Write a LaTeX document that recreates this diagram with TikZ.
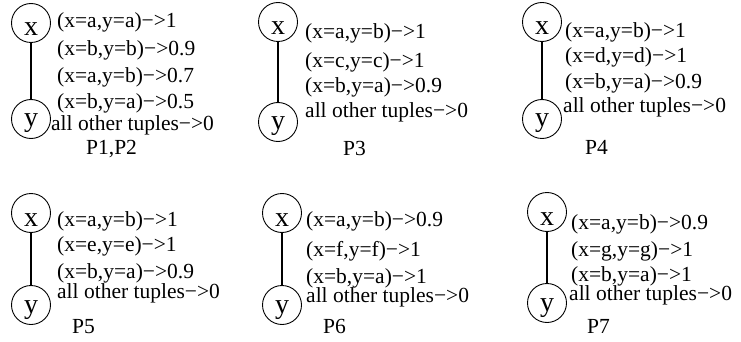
\documentclass[tikz,border=0pt]{standalone}
\usepackage{fontspec}
\setmainfont{Liberation Serif}
\begin{document}
\begin{tikzpicture}[x=1pt,y=-1pt,
  every node/.style={font=\fontsize{21.5}{26}\selectfont},
  vx/.style={circle,draw,line width=0.9pt,minimum size=39pt,inner sep=0pt,
    font=\fontsize{28}{30}\selectfont,text height=26pt,text depth=0pt},
  vy/.style={circle,draw,line width=0.9pt,minimum size=39pt,inner sep=0pt,
    font=\fontsize{28}{30}\selectfont,text height=16pt,text depth=0pt},
  edge/.style={line width=1.8pt},
  tup/.style={anchor=base west,inner sep=0pt},
  plab/.style={anchor=base west,inner sep=0pt}]
\useasboundingbox (0,0) rectangle (741,342);
% Panel P1,P2
\node[vx] (x1) at (31,23) {x};
\node[vy] (y1) at (31,119) {y};
\draw[edge] (x1) -- (y1);
\node[tup] (t1a) at (57,28) {(x=a,y=a)−>1};
\node[tup] (t1b) at (57,56) {(x=b,y=b)−>0.9};
\node[tup] (t1c) at (57,82.5) {(x=a,y=b)−>0.7};
\node[tup] (t1d) at (57,108.5) {(x=b,y=a)−>0.5};
\node[tup] (t1e) at (51,131) {all other tuples−>0};
\node[plab] (p1) at (86,154) {P1,P2};
% Panel P3
\node[vx] (x2) at (278,22) {x};
\node[vy] (y2) at (278,122) {y};
\draw[edge] (x2) -- (y2);
\node[tup] (t2a) at (305,38.5) {(x=a,y=b)−>1};
\node[tup] (t2b) at (305,67.5) {(x=c,y=c)−>1};
\node[tup] (t2c) at (305,92.5) {(x=b,y=a)−>0.9};
\node[tup] (t2d) at (305,117.5) {all other tuples−>0};
\node[plab] (p2) at (343,155) {P3};
% Panel P4
\node[vx] (x3) at (542,22) {x};
\node[vy] (y3) at (542,119) {y};
\draw[edge] (x3) -- (y3);
\node[tup] (t3a) at (565,37.5) {(x=a,y=b)−>1};
\node[tup] (t3b) at (565,62.5) {(x=d,y=d)−>1};
\node[tup] (t3c) at (565,88.5) {(x=b,y=a)−>0.9};
\node[tup] (t3d) at (563,112.5) {all other tuples−>0};
\node[plab] (p3) at (585,154) {P4};
% Panel P5
\node[vx] (x4) at (31,213) {x};
\node[vy] (y4) at (31,305) {y};
\draw[edge] (x4) -- (y4);
\node[tup] (t4a) at (57,226) {(x=a,y=b)−>1};
\node[tup] (t4b) at (57,251.5) {(x=e,y=e)−>1};
\node[tup] (t4c) at (57,278.5) {(x=b,y=a)−>0.9};
\node[tup] (t4d) at (57,298.5) {all other tuples−>0};
\node[plab] (p4) at (72,333) {P5};
% Panel P6
\node[vx] (x5) at (282,213) {x};
\node[vy] (y5) at (282,305) {y};
\draw[edge] (x5) -- (y5);
\node[tup] (t5a) at (306,226.5) {(x=a,y=b)−>0.9};
\node[tup] (t5b) at (306,256.5) {(x=f,y=f)−>1};
\node[tup] (t5c) at (306,283) {(x=b,y=a)−>1};
\node[tup] (t5d) at (306,302) {all other tuples−>0};
\node[plab] (p5) at (323,333) {P6};
% Panel P7
\node[vx] (x6) at (547,212) {x};
\node[vy] (y6) at (547,303) {y};
\draw[edge] (x6) -- (y6);
\node[tup] (t6a) at (571,229.5) {(x=a,y=b)−>0.9};
\node[tup] (t6b) at (571,256.5) {(x=g,y=g)−>1};
\node[tup] (t6c) at (571,281) {(x=b,y=a)−>1};
\node[tup] (t6d) at (569,300) {all other tuples−>0};
\node[plab] (p6) at (587,333) {P7};
\end{tikzpicture}
\end{document}
